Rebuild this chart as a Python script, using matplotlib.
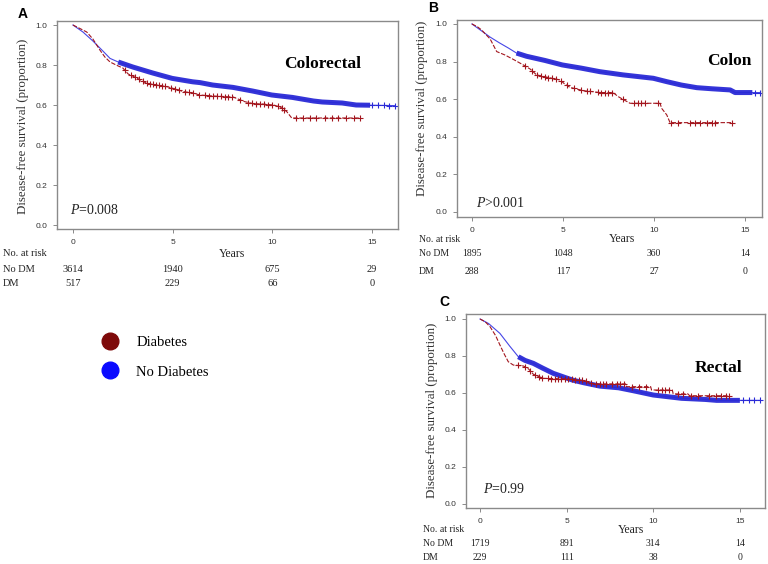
import numpy as np
import matplotlib
matplotlib.use("Agg")
import matplotlib.pyplot as plt
from matplotlib.lines import Line2D
from matplotlib.transforms import blended_transform_factory

plt.rcParams['mathtext.fontset'] = 'custom'
plt.rcParams['mathtext.rm'] = 'Liberation Serif'
plt.rcParams['mathtext.it'] = 'Liberation Serif:italic'

# ---------------- data ----------------
# Panel A (Colorectal)
a_blue_t = [0, 0.5, 1.0, 1.5, 1.86, 2.27, 3.0, 4.0, 4.98, 6.0, 6.37, 7.0, 8.03, 9.0, 9.97, 11.0, 12.06, 12.5, 13.5, 14.2, 16.15]
a_blue_s = [1.0, 0.965, 0.92, 0.87, 0.833, 0.815, 0.79, 0.76, 0.733, 0.716, 0.712, 0.70, 0.688, 0.67, 0.65, 0.638, 0.62, 0.615, 0.61, 0.60, 0.597]
a_red_t = [0, 0.3, 0.69, 1.0, 1.35, 1.6, 1.86, 2.27, 2.5, 2.77, 3.2, 3.7, 4.2, 4.78, 5.2, 5.53, 6.0, 6.37, 7.0, 8.03, 8.6, 9.03, 9.5, 10.05, 10.4, 10.72, 10.97, 14.4]
a_red_s = [1.0, 0.985, 0.965, 0.93, 0.875, 0.84, 0.815, 0.795, 0.785, 0.755, 0.735, 0.708, 0.70, 0.69, 0.678, 0.667, 0.66, 0.65, 0.645, 0.64, 0.617, 0.607, 0.605, 0.60, 0.59, 0.567, 0.535, 0.535]
a_red_cens = [2.6, 2.9, 3.1, 3.3, 3.5, 3.7, 3.85, 4.0, 4.15, 4.3, 4.45, 4.6, 4.9, 5.1, 5.3, 5.6, 5.8, 6.0, 6.3, 6.6, 6.8, 7.0, 7.2, 7.4, 7.6, 7.8, 8.0, 8.4, 8.8, 9.0, 9.2, 9.4, 9.6, 9.8, 10.0, 10.3, 10.5, 10.6, 11.2, 11.55, 11.9, 12.2, 12.65, 12.98, 13.3, 13.7, 14.07, 14.4]
a_blue_cens_tail = [15.0, 15.3, 15.6, 15.85, 16.15]
a_risk_nodm = [3614, 1940, 675, 29]
a_risk_dm = [517, 229, 66, 0]

# Panel B (Colon)
b_blue_t = [0, 0.5, 1.0, 1.5, 2.0, 2.45, 3.0, 4.0, 4.96, 6.0, 7.03, 8.3, 9.96, 10.7, 11.5, 12.35, 13.2, 14.18, 14.45, 15.8]
b_blue_s = [1.0, 0.965, 0.93, 0.9, 0.872, 0.845, 0.828, 0.806, 0.782, 0.765, 0.746, 0.729, 0.711, 0.693, 0.675, 0.661, 0.655, 0.649, 0.635, 0.635]
b_red_t = [0, 0.3, 0.53, 1.0, 1.36, 1.81, 2.3, 2.82, 3.2, 3.55, 4.2, 4.84, 5.1, 5.38, 6.12, 6.6, 7.03, 7.75, 8.04, 8.68, 10.33, 10.42, 10.7, 10.88, 14.27]
b_red_s = [1.0, 0.985, 0.968, 0.92, 0.853, 0.835, 0.81, 0.782, 0.76, 0.729, 0.715, 0.702, 0.68, 0.663, 0.645, 0.64, 0.635, 0.635, 0.613, 0.578, 0.578, 0.551, 0.516, 0.475, 0.475]
b_red_cens = [2.9, 3.3, 3.6, 3.8, 4.0, 4.2, 4.4, 4.6, 4.9, 5.2, 5.6, 6.0, 6.3, 6.5, 6.9, 7.1, 7.3, 7.5, 7.7, 8.3, 8.9, 9.1, 9.3, 9.5, 10.2, 10.95, 11.3, 11.98, 12.25, 12.53, 12.9, 13.17, 13.35, 14.27]
b_blue_cens_tail = [15.55, 15.8]
b_risk_nodm = [1895, 1048, 360, 14]
b_risk_dm = [288, 117, 27, 0]

# Panel C (Rectal)
c_blue_t = [0, 0.5, 1.15, 1.7, 2.21, 2.6, 3.08, 3.6, 4.23, 5.33, 6.0, 6.92, 8.0, 8.85, 10.0, 11.0, 11.64, 13.0, 13.66, 15.0, 16.15]
c_blue_s = [1.0, 0.975, 0.922, 0.855, 0.796, 0.776, 0.76, 0.735, 0.706, 0.67, 0.655, 0.637, 0.628, 0.612, 0.589, 0.578, 0.571, 0.565, 0.56, 0.56, 0.56]
c_red_t = [0, 0.3, 0.58, 0.9, 1.15, 1.4, 1.63, 1.92, 2.5, 2.8, 3.08, 3.65, 5.0, 5.96, 6.54, 8.4, 8.46, 9.85, 9.9, 11.1, 11.15, 12.0, 12.1, 14.4]
c_red_s = [1.0, 0.985, 0.958, 0.91, 0.859, 0.81, 0.769, 0.751, 0.746, 0.73, 0.701, 0.679, 0.676, 0.667, 0.649, 0.649, 0.634, 0.634, 0.616, 0.616, 0.595, 0.595, 0.585, 0.585]
c_red_cens = [2.2, 2.6, 2.9, 3.2, 3.4, 3.6, 3.9, 4.1, 4.3, 4.5, 4.7, 4.9, 5.1, 5.3, 5.5, 5.7, 5.9, 6.1, 6.4, 6.7, 6.9, 7.1, 7.3, 7.6, 7.9, 8.1, 8.3, 8.8, 9.2, 9.6, 10.3, 10.5, 10.7, 10.9, 11.4, 11.7, 12.2, 12.6, 13.2, 13.6, 13.9, 14.2, 14.4]
c_blue_cens_tail = [15.2, 15.5, 15.8, 16.15]
c_risk_nodm = [1719, 891, 314, 14]
c_risk_dm = [229, 111, 38, 0]

risk_times = [0, 5, 10, 15]
xticks = [0, 5, 10, 15]
yticks = [0.0, 0.2, 0.4, 0.6, 0.8, 1.0]
legend_labels = ["Diabetes", "No Diabetes"]

BLUE = "#2a2ad6"
BLUE_THIN = "#4646e6"
RED = "#a3161e"
W, H = 768, 564

fig = plt.figure(figsize=(W / 100, H / 100), dpi=100)


def fx(x):
    return x / W


def fy(y):
    return 1 - y / H


def panel(box, xlim, ylim, bt, bs, rt, rs, rc, btail, thick_start, thick_end,
          letter, letter_xy, title, title_xy, ptxt, p_xy, ylab_xy,
          risk_rows, risk_label_x, nodm, dm, years_xy, risk_fs):
    l, r, t, b = box
    ax = fig.add_axes([fx(l), fy(b), fx(r - l), (b - t) / H])
    ax.set_xlim(*xlim)
    ax.set_ylim(*ylim)
    ax.set_xticks(xticks)
    ax.set_yticks(yticks)
    ax.set_xticklabels([str(v) for v in xticks])
    ax.set_yticklabels([f"{v:.1f}" for v in yticks])
    for s in ax.spines.values():
        s.set_color("#8a8a8a")
        s.set_linewidth(1.0)
    ax.tick_params(length=3, width=0.7, color="#8a8a8a", labelsize=6,
                   labelcolor="#333333", pad=4)
    for lab in ax.get_xticklabels() + ax.get_yticklabels():
        lab.set_family("Liberation Sans")

    # red (diabetes) dashed curve with censor marks
    ax.plot(rt, rs, color=RED, lw=0.8, ls=(0, (4, 1.5)), zorder=3)
    ax.plot(rc, np.interp(rc, rt, rs), ls="none", marker="+", ms=4,
            mew=0.8, color=RED, zorder=4)

    # blue (no diabetes): thin early, dense censored band later
    bt_arr = np.asarray(bt)
    bs_arr = np.asarray(bs)
    ax.plot(bt, bs, color=BLUE_THIN, lw=0.8, zorder=2)
    seg_t = [thick_start] + [v for v in bt if thick_start < v < thick_end] + [thick_end]
    seg_s = np.interp(seg_t, bt_arr, bs_arr)
    ax.plot(seg_t, seg_s, color=BLUE, lw=3.6, alpha=0.95,
            solid_capstyle="butt", zorder=2)
    ax.plot(btail, np.interp(btail, bt_arr, bs_arr), ls="none", marker="+",
            ms=4, mew=0.8, color=BLUE, zorder=2)

    fig.text(fx(letter_xy[0]), fy(letter_xy[1]), letter, family="Liberation Sans",
             fontweight="bold", fontsize=10, ha="center", va="center")
    fig.text(fx(title_xy[0]), fy(title_xy[1]), title, family="Liberation Serif",
             fontweight="bold", fontsize=12.5, ha="center", va="center")
    fig.text(fx(p_xy[0]), fy(p_xy[1]), ptxt, family="Liberation Serif",
             fontsize=10, ha="left", va="center", color="#222222")
    fig.text(fx(ylab_xy[0]), fy(ylab_xy[1]), "Disease-free survival (proportion)",
             family="Liberation Serif", fontsize=9.3, rotation=90,
             ha="center", va="center", color="#333333")

    # risk table
    ytop, ynodm, ydm = risk_rows
    fig.text(fx(risk_label_x), fy(ytop), "No. at risk", family="Liberation Serif",
             fontsize=risk_fs, ha="left", va="center", color="#222222")
    fig.text(fx(risk_label_x), fy(ynodm), "No DM", family="Liberation Serif",
             fontsize=risk_fs, ha="left", va="center", color="#222222")
    fig.text(fx(risk_label_x), fy(ydm), "DM", family="Liberation Serif",
             fontsize=risk_fs, ha="left", va="center", color="#222222")
    tr = blended_transform_factory(ax.transData, fig.transFigure)
    for tt, n1, n2 in zip(risk_times, nodm, dm):
        ax.text(tt, fy(ynodm), str(n1), transform=tr, family="Liberation Serif",
                fontsize=risk_fs, ha="center", va="center", color="#222222", clip_on=False)
        ax.text(tt, fy(ydm), str(n2), transform=tr, family="Liberation Serif",
                fontsize=risk_fs, ha="center", va="center", color="#222222", clip_on=False)
    fig.text(fx(years_xy[0]), fy(years_xy[1]), "Years", family="Liberation Serif",
             fontsize=8.5, ha="center", va="center", color="#222222")
    return ax


panel((57, 398, 21, 229), (-0.8, 16.3), (-0.02, 1.02),
      a_blue_t, a_blue_s, a_red_t, a_red_s, a_red_cens, a_blue_cens_tail, 2.27, 14.9,
      "A", (23, 14), "Colorectal", (323, 64), r"$P$=0.008", (70, 210), (23, 126),
      (254, 269, 284), 3, a_risk_nodm, a_risk_dm, (232, 254), 7.5)

panel((457, 762, 20, 217), (-0.82, 15.93), (-0.027, 1.021),
      b_blue_t, b_blue_s, b_red_t, b_red_s, b_red_cens, b_blue_cens_tail, 2.45, 15.4,
      "B", (433, 8), "Colon", (729, 61), r"$P$>0.001", (476, 203), (422, 108),
      (239, 253, 271), 419, b_risk_nodm, b_risk_dm, (622, 239), 7)

panel((466, 765, 314, 508), (-0.81, 16.45), (-0.022, 1.027),
      c_blue_t, c_blue_s, c_red_t, c_red_s, c_red_cens, c_blue_cens_tail, 2.21, 15.0,
      "C", (444, 302), "Rectal", (719, 368), r"$P$=0.99", (483, 489), (432, 410),
      (530, 544, 558), 423, c_risk_nodm, c_risk_dm, (631, 530), 7)

# legend
handles = [Line2D([], [], ls="none", marker="o", ms=12, color="#7e0a0a"),
           Line2D([], [], ls="none", marker="o", ms=12, color="#0a0aff")]
leg = fig.legend(handles, legend_labels, loc="center left",
                 bbox_to_anchor=(fx(88), fy(357)), frameon=False,
                 prop={"family": "Liberation Serif", "size": 10.5},
                 handlelength=1.2, handletextpad=1.2, labelspacing=1.15)

fig.savefig("out.png", dpi=100)
